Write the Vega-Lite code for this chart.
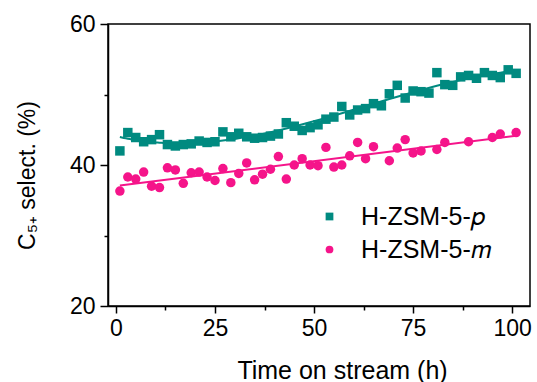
{
  "$schema": "https://vega.github.io/schema/vega-lite/v6.json",
  "width": 422,
  "height": 282,
  "autosize": {"type": "none"},
  "padding": {"left": 108, "top": 24, "right": 7, "bottom": 76},
  "background": "white",
  "config": {
    "font": "Liberation Sans",
    "view": {"stroke": "black", "strokeWidth": 1.5},
    "axis": {"grid": false, "domainColor": "black", "domainWidth": 1.5, "tickColor": "black", "tickWidth": 1.5, "labelColor": "black", "titleColor": "black", "labelFont": "Liberation Sans", "titleFont": "Liberation Sans", "labelFontSize": 23, "titleFontSize": 25, "titleFontWeight": "normal"}
  },
  "data": {"values": [
    {"series": "H-ZSM-5-p", "t": 1, "s": 42.0},
    {"series": "H-ZSM-5-p", "t": 3, "s": 44.6},
    {"series": "H-ZSM-5-p", "t": 5, "s": 43.9},
    {"series": "H-ZSM-5-p", "t": 7, "s": 43.3},
    {"series": "H-ZSM-5-p", "t": 9, "s": 43.6},
    {"series": "H-ZSM-5-p", "t": 11, "s": 44.3},
    {"series": "H-ZSM-5-p", "t": 13, "s": 42.9},
    {"series": "H-ZSM-5-p", "t": 15, "s": 42.7},
    {"series": "H-ZSM-5-p", "t": 17, "s": 42.9},
    {"series": "H-ZSM-5-p", "t": 19, "s": 43.0},
    {"series": "H-ZSM-5-p", "t": 21, "s": 43.4},
    {"series": "H-ZSM-5-p", "t": 23, "s": 43.2},
    {"series": "H-ZSM-5-p", "t": 25, "s": 43.3},
    {"series": "H-ZSM-5-p", "t": 27, "s": 44.7},
    {"series": "H-ZSM-5-p", "t": 29, "s": 44.0},
    {"series": "H-ZSM-5-p", "t": 31, "s": 44.5},
    {"series": "H-ZSM-5-p", "t": 33, "s": 44.0},
    {"series": "H-ZSM-5-p", "t": 35, "s": 43.8},
    {"series": "H-ZSM-5-p", "t": 37, "s": 43.9},
    {"series": "H-ZSM-5-p", "t": 39, "s": 44.1},
    {"series": "H-ZSM-5-p", "t": 41, "s": 44.4},
    {"series": "H-ZSM-5-p", "t": 43, "s": 46.0},
    {"series": "H-ZSM-5-p", "t": 45, "s": 45.5},
    {"series": "H-ZSM-5-p", "t": 47, "s": 44.9},
    {"series": "H-ZSM-5-p", "t": 49, "s": 45.3},
    {"series": "H-ZSM-5-p", "t": 51, "s": 45.7},
    {"series": "H-ZSM-5-p", "t": 53, "s": 46.5},
    {"series": "H-ZSM-5-p", "t": 55, "s": 46.8},
    {"series": "H-ZSM-5-p", "t": 57, "s": 48.3},
    {"series": "H-ZSM-5-p", "t": 59, "s": 47.1},
    {"series": "H-ZSM-5-p", "t": 61, "s": 47.8},
    {"series": "H-ZSM-5-p", "t": 63, "s": 48.0},
    {"series": "H-ZSM-5-p", "t": 65, "s": 48.7},
    {"series": "H-ZSM-5-p", "t": 67, "s": 48.4},
    {"series": "H-ZSM-5-p", "t": 69, "s": 50.1},
    {"series": "H-ZSM-5-p", "t": 71, "s": 51.3},
    {"series": "H-ZSM-5-p", "t": 73, "s": 49.5},
    {"series": "H-ZSM-5-p", "t": 75, "s": 50.5},
    {"series": "H-ZSM-5-p", "t": 77, "s": 50.4},
    {"series": "H-ZSM-5-p", "t": 79, "s": 50.2},
    {"series": "H-ZSM-5-p", "t": 81, "s": 53.1},
    {"series": "H-ZSM-5-p", "t": 83, "s": 51.4},
    {"series": "H-ZSM-5-p", "t": 85, "s": 51.3},
    {"series": "H-ZSM-5-p", "t": 87, "s": 52.5},
    {"series": "H-ZSM-5-p", "t": 89, "s": 52.7},
    {"series": "H-ZSM-5-p", "t": 91, "s": 52.3},
    {"series": "H-ZSM-5-p", "t": 93, "s": 53.1},
    {"series": "H-ZSM-5-p", "t": 95, "s": 52.7},
    {"series": "H-ZSM-5-p", "t": 97, "s": 52.4},
    {"series": "H-ZSM-5-p", "t": 99, "s": 53.5},
    {"series": "H-ZSM-5-p", "t": 101, "s": 53.0},
    {"series": "H-ZSM-5-m", "t": 1, "s": 36.3},
    {"series": "H-ZSM-5-m", "t": 3, "s": 38.3},
    {"series": "H-ZSM-5-m", "t": 5, "s": 38.0},
    {"series": "H-ZSM-5-m", "t": 7, "s": 39.0},
    {"series": "H-ZSM-5-m", "t": 9, "s": 37.0},
    {"series": "H-ZSM-5-m", "t": 11, "s": 36.8},
    {"series": "H-ZSM-5-m", "t": 13, "s": 39.6},
    {"series": "H-ZSM-5-m", "t": 15, "s": 39.3},
    {"series": "H-ZSM-5-m", "t": 17, "s": 37.4},
    {"series": "H-ZSM-5-m", "t": 19, "s": 38.9},
    {"series": "H-ZSM-5-m", "t": 21, "s": 39.0},
    {"series": "H-ZSM-5-m", "t": 23, "s": 38.3},
    {"series": "H-ZSM-5-m", "t": 25, "s": 37.8},
    {"series": "H-ZSM-5-m", "t": 27, "s": 39.5},
    {"series": "H-ZSM-5-m", "t": 29, "s": 37.5},
    {"series": "H-ZSM-5-m", "t": 31, "s": 38.8},
    {"series": "H-ZSM-5-m", "t": 33, "s": 40.3},
    {"series": "H-ZSM-5-m", "t": 35, "s": 37.9},
    {"series": "H-ZSM-5-m", "t": 37, "s": 38.7},
    {"series": "H-ZSM-5-m", "t": 39, "s": 39.4},
    {"series": "H-ZSM-5-m", "t": 41, "s": 41.2},
    {"series": "H-ZSM-5-m", "t": 43, "s": 38.0},
    {"series": "H-ZSM-5-m", "t": 45, "s": 40.0},
    {"series": "H-ZSM-5-m", "t": 47, "s": 40.9},
    {"series": "H-ZSM-5-m", "t": 49, "s": 40.0},
    {"series": "H-ZSM-5-m", "t": 51, "s": 39.9},
    {"series": "H-ZSM-5-m", "t": 53, "s": 42.5},
    {"series": "H-ZSM-5-m", "t": 55, "s": 39.7},
    {"series": "H-ZSM-5-m", "t": 57, "s": 40.0},
    {"series": "H-ZSM-5-m", "t": 59, "s": 41.3},
    {"series": "H-ZSM-5-m", "t": 61, "s": 43.2},
    {"series": "H-ZSM-5-m", "t": 63, "s": 40.9},
    {"series": "H-ZSM-5-m", "t": 65, "s": 42.6},
    {"series": "H-ZSM-5-m", "t": 69, "s": 40.6},
    {"series": "H-ZSM-5-m", "t": 71, "s": 42.4},
    {"series": "H-ZSM-5-m", "t": 73, "s": 43.6},
    {"series": "H-ZSM-5-m", "t": 75, "s": 41.7},
    {"series": "H-ZSM-5-m", "t": 77, "s": 42.0},
    {"series": "H-ZSM-5-m", "t": 81, "s": 42.2},
    {"series": "H-ZSM-5-m", "t": 83, "s": 43.2},
    {"series": "H-ZSM-5-m", "t": 89, "s": 43.3},
    {"series": "H-ZSM-5-m", "t": 95, "s": 43.9},
    {"series": "H-ZSM-5-m", "t": 97, "s": 44.4},
    {"series": "H-ZSM-5-m", "t": 101, "s": 44.6}
  ]},
  "encoding": {
    "x": {"field": "t", "type": "quantitative", "scale": {"domain": [-2, 104.5], "nice": false, "zero": false},
      "axis": {"title": "Time on stream (h)", "values": [0, 12.5, 25, 37.5, 50, 62.5, 75, 87.5, 100],
        "labelExpr": "datum.value % 25 === 0 ? datum.label : ''",
        "tickSize": {"condition": {"test": "datum.value % 25 === 0", "value": 7}, "value": 4},
        "labelPadding": 4, "titlePadding": 18, "titleX": 234, "titleAlign": "center", "labelFlush": false}},
    "y": {"field": "s", "type": "quantitative", "scale": {"domain": [20, 60], "nice": false, "zero": false},
      "axis": {"title": "C₅₊ select. (%)", "values": [20, 30, 40, 50, 60],
        "labelExpr": "datum.value % 20 === 0 ? datum.label : ''",
        "tickSize": {"condition": {"test": "datum.value % 20 === 0", "value": 8}, "value": 4},
        "labelPadding": 5, "titlePadding": 30, "titleFontSize": 23, "titleY": 151, "titleAlign": "center", "labelFlush": false}}
  },
  "layer": [
    {
      "mark": {"type": "point", "filled": true, "opacity": 1},
      "encoding": {
        "color": {"field": "series", "type": "nominal",
          "scale": {"domain": ["H-ZSM-5-p", "H-ZSM-5-m"], "range": ["#008a80", "#f5148a"]},
          "legend": {"title": null, "orient": "none", "legendX": 209, "legendY": 180,
            "labelFontSize": 25, "labelFont": "Liberation Sans", "symbolSize": 60, "rowPadding": 7, "labelOffset": 19,
            "labelExpr": "datum.label === 'H-ZSM-5-p' ? 'H-ZSM-5-𝑝' : 'H-ZSM-5-𝑚'",
            "encode": {"labels": {"update": {"fill": {"scale": "color", "field": "value"}}}}}},
        "shape": {"field": "series", "type": "nominal",
          "scale": {"domain": ["H-ZSM-5-p", "H-ZSM-5-m"], "range": ["square", "circle"]}},
        "size": {"value": 90}
      }
    },
    {
      "transform": [{"filter": "datum.series === 'H-ZSM-5-p'"}, {"regression": "s", "on": "t", "method": "poly", "order": 3}],
      "mark": {"type": "line", "strokeWidth": 2, "color": "#008a80"},
      "encoding": {}
    },
    {
      "transform": [{"filter": "datum.series === 'H-ZSM-5-m'"}, {"regression": "s", "on": "t", "method": "linear"}],
      "mark": {"type": "line", "strokeWidth": 2, "color": "#f5148a"},
      "encoding": {}
    }
  ]
}
